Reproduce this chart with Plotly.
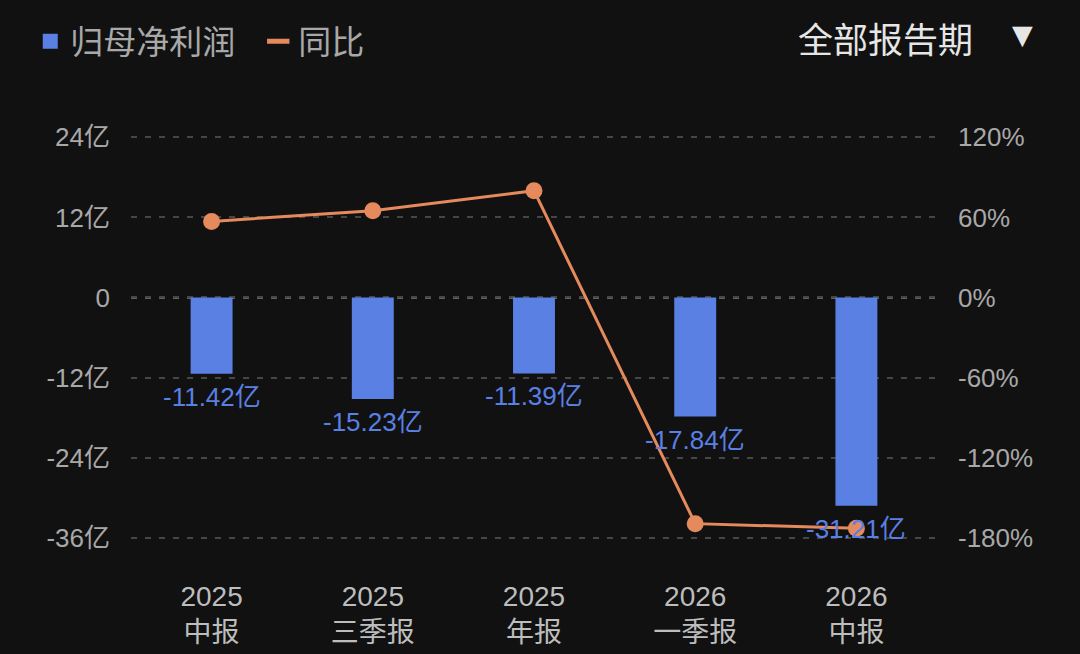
import plotly.graph_objects as go

# report periods and values
periods = ['2025<br>中报', '2025<br>三季报', '2025<br>年报', '2026<br>一季报', '2026<br>中报']
profit = [-11.42, -15.23, -11.39, -17.84, -31.21]          # 亿
profit_labels = ['-11.42亿', '-15.23亿', '-11.39亿', '-17.84亿', '-31.21亿']
yoy = [57, 65, 80, -169.5, -173]                            # %

left_ticks = [-36, -24, -12, 0, 12, 24]
left_ticktext = ['-36亿', '-24亿', '-12亿', '0', '12亿', '24亿']
right_ticks = [-180, -120, -60, 0, 60, 120]
right_ticktext = ['-180%', '-120%', '-60%', '0%', '60%', '120%']

BLUE = '#5a80e4'
ORANGE = '#e58a5c'
BG = '#111111'
FONT = 'Liberation Sans, Noto Sans CJK SC, sans-serif'
DASH = '6px,8px'

fig = go.Figure()

fig.add_trace(go.Bar(
    x=periods, y=profit, showlegend=False,
    marker=dict(color=BLUE, line=dict(width=0)),
    width=0.26,
))

fig.add_trace(go.Scatter(
    x=periods, y=yoy, yaxis='y2', mode='lines+markers',
    line=dict(color=ORANGE, width=3),
    marker=dict(color=ORANGE, size=17),
    showlegend=False,
))

# legend proxies: rounded-ish square for the bars, short dash for the line
fig.add_trace(go.Scatter(
    x=[None], y=[None], mode='markers', name='归母净利润',
    marker=dict(symbol='square', size=15, color=BLUE),
))
fig.add_trace(go.Scatter(
    x=[None], y=[None], yaxis='y2', mode='markers', name='同比',
    marker=dict(symbol='line-ew', size=16, line=dict(color=ORANGE, width=6)),
))

for p, v, t in zip(periods, profit, profit_labels):
    fig.add_annotation(
        x=p, y=v, yref='y', text=t, showarrow=False,
        yanchor='top', yshift=-6,
        font=dict(color=BLUE, size=26, family=FONT),
    )

# brighter dashed zero line, same dash pattern as the grid so they line up
fig.add_shape(type='line', xref='paper', x0=0, x1=1, yref='y', y0=0, y1=0,
              line=dict(color='#b0b0b0', width=2, dash=DASH), layer='below')

fig.add_annotation(text='全部报告期', xref='paper', yref='paper',
                   x=1.047, y=1.23, xanchor='right', yanchor='middle', showarrow=False,
                   font=dict(color='#e6e6e6', size=35, family=FONT))
fig.add_annotation(text='▼', xref='paper', yref='paper',
                   x=1.106, y=1.245, xanchor='center', yanchor='middle', showarrow=False,
                   font=dict(color='#e6e6e6', size=27, family='DejaVu Sans'))

fig.update_layout(
    width=1080, height=654,
    paper_bgcolor=BG, plot_bgcolor=BG,
    margin=dict(l=131, r=143, t=134, b=113, autoexpand=False),
    font=dict(family=FONT, color='#a8a8a8'),
    legend=dict(orientation='h', x=-0.125, y=1.228, xanchor='left', yanchor='middle',
                font=dict(size=33, color='#a8a8a8'), bgcolor='rgba(0,0,0,0)',
                entrywidth=183),
    xaxis=dict(
        type='category', range=[-0.5, 4.5],
        showgrid=False, zeroline=False, showline=False,
        tickfont=dict(size=28, color='#bdbdbd'),
        ticklabelstandoff=36, ticks='',
    ),
    yaxis=dict(
        range=[-36.5, 24.5], tickvals=left_ticks, ticktext=left_ticktext,
        showgrid=True, gridcolor='#464646', griddash=DASH, gridwidth=1.5,
        zeroline=False, showline=False,
        tickfont=dict(size=26, color='#a8a8a8'), ticklabelstandoff=20,
    ),
    yaxis2=dict(
        range=[-182.5, 122.5], tickvals=right_ticks, ticktext=right_ticktext,
        overlaying='y', side='right', showgrid=False, zeroline=False,
        tickfont=dict(size=26, color='#a8a8a8'), ticklabelstandoff=20,
    ),
)

fig.write_html('out.html', config={'displayModeBar': False},
               post_script="document.body.style.margin='0';")
